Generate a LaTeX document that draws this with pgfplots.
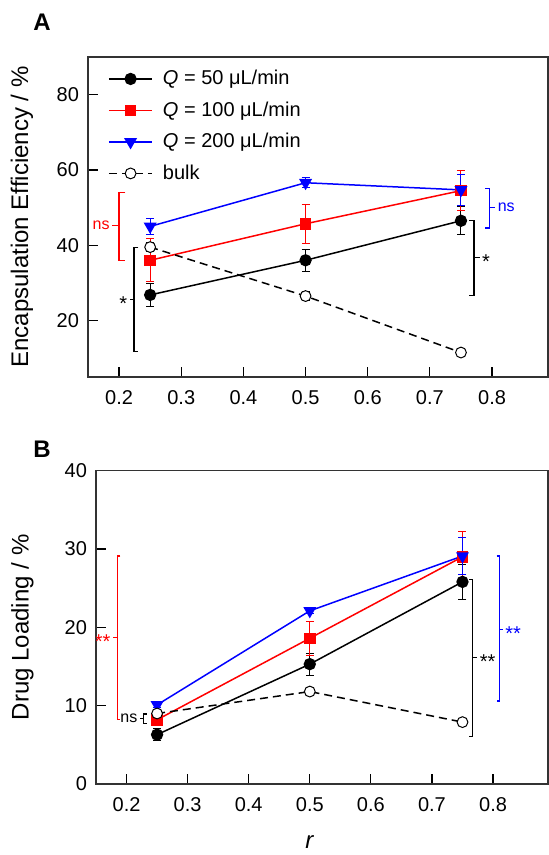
\documentclass[border=0pt]{standalone}
\usepackage{fontspec}
\setmainfont{Liberation Sans}
\usepackage{pgfplots}
\pgfplotsset{compat=1.18}

\pgfplotsset{
  panel/.style={
    scale only axis, xmin=0.15, xmax=0.89,
    xtick={0.2,0.3,0.4,0.5,0.6,0.7,0.8},
    xticklabels={0.2,0.3,0.4,0.5,0.6,0.7,0.8},
    tick align=inside, tick pos=left, major tick length=5pt,
    axis line style={line width=0.6pt, black!80},
    every tick/.style={black, line width=0.6pt},
    tick label style={font=\fontsize{10}{12}\selectfont},
    xticklabel style={yshift=-3pt},
    yticklabel style={xshift=-1pt},
    /pgf/number format/assume math mode=true,
    label style={font=\fontsize{12}{14}\selectfont},
    every axis plot/.append style={line width=0.75pt},
    error bars/y dir=both, error bars/y explicit,
    error bars/error bar style={solid, line width=0.5pt},
    error bars/error mark options={solid, rotate=90, mark size=2pt, line width=0.5pt},
  },
  s50/.style={black, mark=*, mark size=2.7pt, mark options={solid, fill=black}},
  s100/.style={red, mark=square*, mark size=2.5pt, mark options={solid, fill=red}},
  s200/.style={blue, mark=triangle*, mark size=3pt, mark options={solid, fill=blue, rotate=180}},
  sbulk/.style={black, dash pattern=on 4pt off 2.5pt, mark=*, mark size=2.7pt, mark options={solid, draw=black, fill=white, line width=0.5pt}},
}
\tikzset{brk/.style={line width=0.6pt},
  sig/.style={font=\fontsize{8}{9}\selectfont, inner sep=1pt},
  ast/.style={font=\fontsize{10}{11}\selectfont, inner sep=1pt, yshift=-2pt}}

\begin{document}
\begin{tikzpicture}
\path[use as bounding box] (0,0) rectangle (274pt,-427.5pt);
\node[font=\bfseries\fontsize{12}{14}\selectfont] at (21pt,-11pt) {A};
\node[font=\bfseries\fontsize{12}{14}\selectfont] at (21pt,-224.5pt) {B};

% ---- panel A: encapsulation efficiency
\begin{axis}[panel, at={(44pt,-188.5pt)}, anchor=south west,
  width=230pt, height=160pt, ymin=5, ymax=90, ytick={20,40,60,80},
  ylabel={Encapsulation Efficiency / \%},
  ylabel style={at={(axis description cs:-0.1435,0.5)}, anchor=center},
  legend style={draw=none, fill=none, at={(axis description cs:0.03,0.985)}, anchor=north west,
    font=\fontsize{10}{11}\selectfont, row sep=3pt,
    /tikz/every odd column/.append style={column sep=3pt}},
  legend cell align=left,
  legend image code/.code={\draw[mark repeat=2, mark phase=2, #1] plot coordinates {(0cm,0cm) (0.38cm,0cm) (0.76cm,0cm)};}]
\addplot[s50] coordinates {(0.25,26.8) +- (0,3.1) (0.5,36.0) +- (0,2.9) (0.75,46.5) +- (0,3.7)};
\addlegendentry{\textit{Q} = 50 μL/min}
\addplot[s100] coordinates {(0.25,36.0) +- (0,5.7) (0.5,45.7) +- (0,5.2) (0.75,54.5) +- (0,5.4)};
\addlegendentry{\textit{Q} = 100 μL/min}
\addplot[s200] coordinates {(0.25,45.0) +- (0,2.2) (0.5,56.6) +- (0,1.3) (0.75,54.7) +- (0,4.2)};
\addlegendentry{\textit{Q} = 200 μL/min}
\addplot[sbulk] coordinates {(0.25,39.5) +- (0,1.2) (0.5,26.5) +- (0,1.2) (0.75,11.5) +- (0,0.5)};
\addlegendentry{bulk}
% significance brackets
\draw[brk, red] (axis cs:0.21,54.1) -- (axis cs:0.2,54.1) -- (axis cs:0.2,36.0) -- (axis cs:0.21,36.0);
\draw[brk, red] (axis cs:0.2,45.2) -- (axis cs:0.189,45.2) node[sig, anchor=east, text=red] {ns};
\draw[brk] (axis cs:0.231,39.5) -- (axis cs:0.224,39.5) -- (axis cs:0.224,11.7) -- (axis cs:0.231,11.7);
\draw[brk] (axis cs:0.224,25.6) -- (axis cs:0.217,25.6) node[ast, anchor=east] {*};
\draw[brk] (axis cs:0.763,46.6) -- (axis cs:0.771,46.6) -- (axis cs:0.771,26.7) -- (axis cs:0.763,26.7);
\draw[brk] (axis cs:0.771,36.7) -- (axis cs:0.78,36.7) node[ast, anchor=west] {*};
\draw[brk, blue] (axis cs:0.789,55.1) -- (axis cs:0.796,55.1) -- (axis cs:0.796,44.6) -- (axis cs:0.789,44.6);
\draw[brk, blue] (axis cs:0.796,50.1) -- (axis cs:0.805,50.1) node[sig, anchor=west, text=blue] {ns};
\end{axis}

% ---- panel B: drug loading
\begin{axis}[panel, at={(48pt,-392pt)}, anchor=south west,
  width=226pt, height=156.7pt, ymin=0, ymax=40, ytick={0,10,20,30,40},
  ylabel={Drug Loading / \%},
  ylabel style={at={(axis description cs:-0.1626,0.5)}, anchor=center},
  xlabel={\textit{r}},
  xlabel style={at={(axis description cs:0.473,0)}, yshift=-29pt, anchor=center}]
\addplot[s50] coordinates {(0.25,6.3) +- (0,0.8) (0.5,15.3) +- (0,1.4) (0.75,25.8) +- (0,2.2)};
\addplot[s100] coordinates {(0.25,8.2) +- (0,0.6) (0.5,18.6) +- (0,2.2) (0.75,29.0) +- (0,3.2)};
\addplot[s200] coordinates {(0.25,10.1) +- (0,0.3) (0.5,22.1) +- (0,0.3) (0.75,29.1) +- (0,2.3)};
\addplot[sbulk] coordinates {(0.25,9.0) +- (0,0.4) (0.5,11.8) +- (0,0.5) (0.75,7.9) +- (0,0.2)};
% significance brackets
\draw[brk, red] (axis cs:0.19,29.1) -- (axis cs:0.185,29.1) -- (axis cs:0.185,8.2) -- (axis cs:0.19,8.2);
\draw[brk, red] (axis cs:0.185,18.7) -- (axis cs:0.178,18.7) node[ast, anchor=east, text=red] {**};
\draw[brk] (axis cs:0.233,8.94) -- (axis cs:0.228,8.94) -- (axis cs:0.228,7.74) -- (axis cs:0.233,7.74);
\draw[brk] (axis cs:0.228,8.4) -- (axis cs:0.222,8.4) node[sig, anchor=east] {ns};
\draw[brk] (axis cs:0.761,26.1) -- (axis cs:0.7665,26.1) -- (axis cs:0.7665,6.1) -- (axis cs:0.761,6.1);
\draw[brk] (axis cs:0.7665,16.1) -- (axis cs:0.774,16.1) node[ast, anchor=west] {**};
\draw[brk, blue] (axis cs:0.806,29.1) -- (axis cs:0.811,29.1) -- (axis cs:0.811,10.6) -- (axis cs:0.806,10.6);
\draw[brk, blue] (axis cs:0.811,19.7) -- (axis cs:0.816,19.7) node[ast, anchor=west, text=blue] {**};
\end{axis}
\end{tikzpicture}
\end{document}
